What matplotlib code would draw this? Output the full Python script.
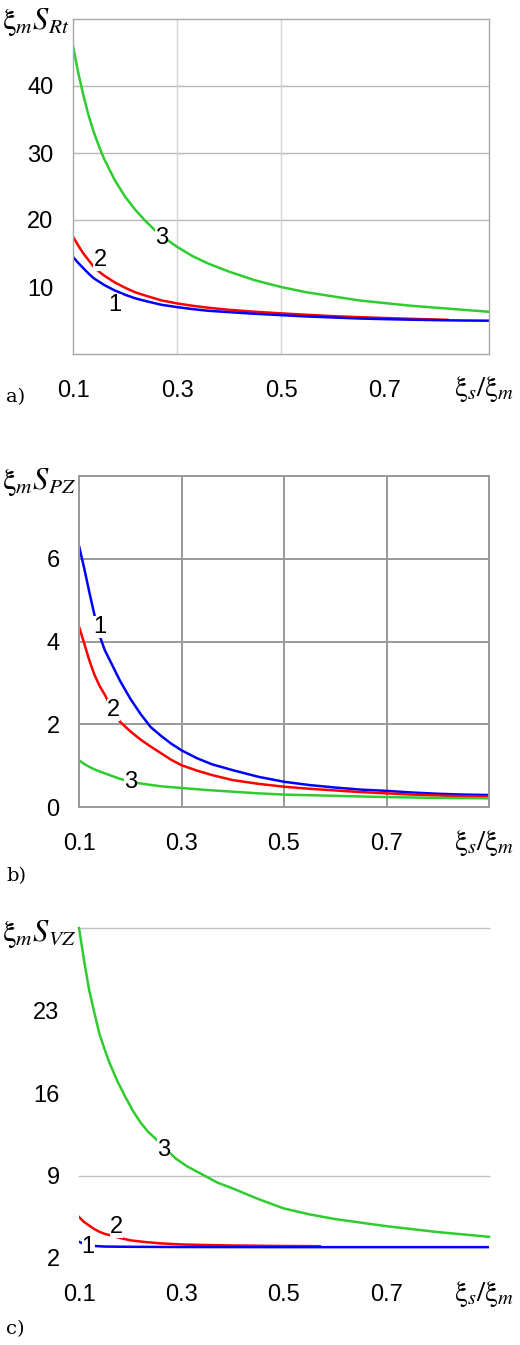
import matplotlib
matplotlib.use("Agg")
import matplotlib.pyplot as plt

plt.rcParams['font.family'] = ['Liberation Sans', 'DejaVu Sans']
plt.rcParams['mathtext.fontset'] = 'stix'

# ---------------- data ----------------
# panel a)  xi_m * S_Rt
x_a_green = [0.10, 0.11, 0.12, 0.13, 0.14, 0.15, 0.16, 0.18, 0.20, 0.22, 0.24, 0.26, 0.28, 0.30,
             0.33, 0.36, 0.40, 0.45, 0.50, 0.55, 0.60, 0.65, 0.70, 0.75, 0.80, 0.85, 0.90]
a_green = [46.0, 42.0, 38.6, 35.6, 33.1, 31.0, 29.1, 26.0, 23.5, 21.5, 19.8, 18.3, 17.1, 16.0,
           14.6, 13.5, 12.3, 11.0, 10.0, 9.2, 8.6, 8.0, 7.6, 7.2, 6.9, 6.6, 6.3]
x_a_red = [0.10, 0.11, 0.12, 0.13, 0.14, 0.15, 0.16, 0.18, 0.20, 0.22, 0.24, 0.27, 0.30,
           0.33, 0.36, 0.40, 0.45, 0.50, 0.55, 0.60, 0.65, 0.70, 0.75, 0.82]
a_red = [17.5, 16.2, 15.0, 14.0, 13.0, 12.3, 11.7, 10.7, 9.9, 9.2, 8.7, 8.0, 7.55,
         7.2, 6.9, 6.6, 6.3, 6.07, 5.85, 5.65, 5.5, 5.37, 5.25, 5.1]
x_a_blue = [0.10, 0.11, 0.12, 0.13, 0.14, 0.15, 0.16, 0.18, 0.20, 0.22, 0.24, 0.27, 0.30,
            0.33, 0.36, 0.40, 0.45, 0.50, 0.55, 0.60, 0.65, 0.70, 0.75, 0.80, 0.85, 0.90]
a_blue = [14.5, 13.6, 12.8, 12.0, 11.3, 10.8, 10.3, 9.5, 8.85, 8.3, 7.9, 7.35, 7.0,
          6.7, 6.45, 6.25, 6.0, 5.8, 5.6, 5.45, 5.3, 5.2, 5.12, 5.05, 5.0, 4.97]

# panel b)  xi_m * S_PZ
x_b = [0.10, 0.11, 0.12, 0.13, 0.14, 0.15, 0.16, 0.18, 0.20, 0.22, 0.24, 0.26, 0.28, 0.30,
       0.33, 0.36, 0.40, 0.45, 0.50, 0.55, 0.60, 0.65, 0.70, 0.75, 0.80, 0.85, 0.90]
b_blue = [6.31, 5.78, 5.2, 4.65, 4.15, 3.8, 3.55, 3.05, 2.62, 2.25, 1.93, 1.72, 1.53, 1.37,
          1.18, 1.03, 0.89, 0.73, 0.61, 0.53, 0.47, 0.42, 0.39, 0.35, 0.32, 0.30, 0.29]
b_red = [4.36, 3.96, 3.55, 3.2, 2.93, 2.72, 2.48, 2.06, 1.83, 1.63, 1.46, 1.30, 1.14, 1.01,
         0.88, 0.77, 0.65, 0.56, 0.49, 0.44, 0.40, 0.36, 0.33, 0.30, 0.28, 0.26, 0.25]
x_b_green = [0.10, 0.11, 0.12, 0.13, 0.14, 0.16, 0.18, 0.20, 0.23, 0.26, 0.30, 0.35, 0.40,
             0.45, 0.50, 0.60, 0.70, 0.80, 0.90]
b_green = [1.13, 1.04, 0.97, 0.91, 0.86, 0.77, 0.68, 0.61, 0.55, 0.50, 0.46, 0.41, 0.37,
           0.33, 0.30, 0.27, 0.24, 0.22, 0.21]

# panel c)  xi_m * S_VZ
x_c_green = [0.10, 0.11, 0.12, 0.13, 0.14, 0.15, 0.16, 0.175, 0.19, 0.205, 0.22, 0.235, 0.255,
             0.27, 0.29, 0.31, 0.34, 0.37, 0.40, 0.45, 0.50, 0.55, 0.60, 0.65, 0.70, 0.75,
             0.80, 0.85, 0.90]
c_green = [30.0, 27.2, 24.7, 22.8, 21.0, 19.7, 18.5, 17.0, 15.7, 14.5, 13.5, 12.7, 11.9,
           11.2, 10.4, 9.8, 9.1, 8.4, 7.9, 7.0, 6.2, 5.7, 5.3, 5.0, 4.7, 4.45,
           4.2, 4.0, 3.8]
x_c_red = [0.10, 0.11, 0.12, 0.13, 0.14, 0.15, 0.165, 0.18, 0.20, 0.23, 0.26, 0.30, 0.35,
           0.40, 0.50, 0.57]
c_red = [5.48, 5.05, 4.75, 4.45, 4.22, 4.05, 3.88, 3.7, 3.5, 3.35, 3.24, 3.15, 3.1,
         3.06, 3.02, 3.0]
x_c_blue = [0.10, 0.11, 0.12, 0.13, 0.15, 0.20, 0.30, 0.50, 0.70, 0.90]
c_blue = [3.37, 3.2, 3.08, 3.02, 2.97, 2.95, 2.93, 2.92, 2.92, 2.92]

x_ticks = [0.1, 0.3, 0.5, 0.7]
x_ticklabels = ['0.1', '0.3', '0.5', '0.7']
a_yticks = [10, 20, 30, 40]
b_yticks = [0, 2, 4, 6]
c_yticks = [2, 9, 16, 23]

BLUE, RED, GREEN = '#0000ff', '#ff0000', '#2ecc2e'
LW = 1.8

fig = plt.figure(figsize=(5.2, 13.45), dpi=100)
W, H = 520.0, 1345.0

def make_ax(left, right, top, bottom):
    return fig.add_axes([left / W, 1 - bottom / H, (right - left) / W, (bottom - top) / H])

def label(ax, x, y, s):
    ax.text(x, y, s, fontsize=17, ha='center', va='center', color='black', zorder=5,
            bbox=dict(boxstyle='square,pad=0.0', fc='white', ec='none'))

def style(ax, yticks):
    ax.set_xlim(0.1, 0.9)
    ax.set_xticks(x_ticks)
    ax.set_xticklabels(x_ticklabels)
    ax.set_yticks(yticks)
    ax.tick_params(length=0, labelsize=17)
    ax.tick_params(axis='y', pad=14)
    ax.tick_params(axis='x', pad=18.5)

# ---------------- panel a ----------------
ax = make_ax(73, 489, 19, 354)
ax.set_ylim(0, 50)
style(ax, a_yticks)
for v in [20, 30, 40]:
    ax.axhline(v, color='#b8b8b8', lw=1.0, zorder=0)
for v in [0.3, 0.5]:
    ax.axvline(v, color='#d4d4d4', lw=1.0, zorder=0)
for sp in ax.spines.values():
    sp.set_color('#a8a8a8')
    sp.set_linewidth(1.0)
ax.plot(x_a_green, a_green, color=GREEN, lw=LW)
ax.plot(x_a_red, a_red, color=RED, lw=LW)
ax.plot(x_a_blue, a_blue, color=BLUE, lw=LW)
label(ax, 0.2706, 17.3, '3')
label(ax, 0.152, 14.1, '2')
label(ax, 0.181, 7.3, '1')

# ---------------- panel b ----------------
ax = make_ax(79, 489, 476, 807)
ax.set_ylim(0, 8)
style(ax, b_yticks)
for v in [2, 4, 6]:
    ax.axhline(v, color='#999999', lw=1.4, zorder=0)
for v in [0.3, 0.5, 0.7]:
    ax.axvline(v, color='#999999', lw=1.4, zorder=0)
for sp in ax.spines.values():
    sp.set_color('#999999')
    sp.set_linewidth(1.4)
ax.plot(x_b, b_blue, color=BLUE, lw=LW)
ax.plot(x_b, b_red, color=RED, lw=LW)
ax.plot(x_b_green, b_green, color=GREEN, lw=LW)
label(ax, 0.14, 4.34, '1')
label(ax, 0.167, 2.34, '2')
label(ax, 0.2, 0.61, '3')

# ---------------- panel c ----------------
ax = make_ax(79, 489, 928, 1258)
ax.set_ylim(2, 30)
style(ax, c_yticks)
for v in [9, 30]:
    ax.axhline(v, color='#c0c0c0', lw=1.0, zorder=0, clip_on=False)
for sp in ax.spines.values():
    sp.set_visible(False)
ax.plot(x_c_green, c_green, color=GREEN, lw=LW, clip_on=False)
ax.plot(x_c_red, c_red, color=RED, lw=LW)
ax.plot(x_c_blue, c_blue, color=BLUE, lw=LW)
label(ax, 0.2645, 11.2, '3')
label(ax, 0.1735, 4.6, '2')
label(ax, 0.118, 2.9, '1')

# ---------------- texts ----------------
ylab_a = r'$\mathrm{\xi}_{m}S_{Rt}$'
ylab_b = r'$\mathrm{\xi}_{m}S_{PZ}$'
ylab_c = r'$\mathrm{\xi}_{m}S_{VZ}$'
xlab = r'$\mathrm{\xi}_{s}/\mathrm{\xi}_{m}$'
for s, y in [(ylab_a, 22), (ylab_b, 482), (ylab_c, 934)]:
    fig.text(2 / W, 1 - y / H, s, fontsize=22, ha='left', va='center')
for y in [389, 843, 1294]:
    fig.text(484 / W, 1 - y / H, xlab, fontsize=21, ha='center', va='center')
for s, y in [('a)', 397), ('b)', 876), ('c)', 1329)]:
    fig.text(6 / W, 1 - y / H, s, fontsize=14, ha='left', va='center', family='DejaVu Serif')

fig.savefig('out.png', dpi=100)
